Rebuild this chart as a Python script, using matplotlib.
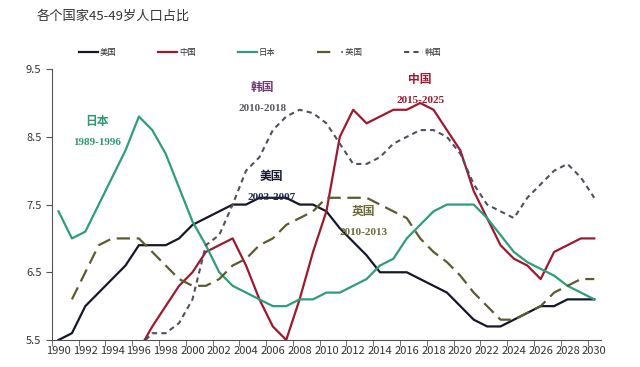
import numpy as np
import matplotlib
matplotlib.use("Agg")
import matplotlib.pyplot as plt
from matplotlib.lines import Line2D

plt.rcParams['font.family'] = ['Noto Sans CJK SC', 'DejaVu Sans']

years = np.arange(1990, 2031)
nan = np.nan

usa = [5.5, 5.6, 6.0, 6.2, 6.4, 6.6, 6.9, 6.9, 6.9, 7.0,
       7.2, 7.3, 7.4, 7.5, 7.5, 7.6, 7.6, 7.6, 7.5, 7.5,
       7.4, 7.15, 6.95, 6.75, 6.5, 6.5, 6.5, 6.4, 6.3, 6.2,
       6.0, 5.8, 5.7, 5.7, 5.8, 5.9, 6.0, 6.0, 6.1, 6.1, 6.1]
china = [nan, nan, nan, nan, nan, nan, 5.35, 5.7, 6.0, 6.3,
         6.5, 6.8, 6.9, 7.0, 6.6, 6.1, 5.7, 5.5, 6.1, 6.8,
         7.4, 8.5, 8.9, 8.7, 8.8, 8.9, 8.9, 9.0, 8.9, 8.6,
         8.3, 7.7, 7.3, 6.9, 6.7, 6.6, 6.4, 6.8, 6.9, 7.0, 7.0]
japan = [7.4, 7.0, 7.1, 7.5, 7.9, 8.3, 8.8, 8.6, 8.25, 7.75,
         7.25, 6.9, 6.5, 6.3, 6.2, 6.1, 6.0, 6.0, 6.1, 6.1,
         6.2, 6.2, 6.3, 6.4, 6.6, 6.7, 7.0, 7.2, 7.4, 7.5,
         7.5, 7.5, 7.3, 7.05, 6.8, 6.65, 6.55, 6.45, 6.3, 6.2, 6.1]
uk = [nan, 6.1, 6.5, 6.9, 7.0, 7.0, 7.0, 6.8, 6.6, 6.4,
      6.3, 6.3, 6.4, 6.6, 6.7, 6.9, 7.0, 7.2, 7.3, 7.4,
      7.6, 7.6, 7.6, 7.6, 7.5, 7.4, 7.3, 7.0, 6.8, 6.65,
      6.45, 6.2, 6.0, 5.8, 5.8, 5.9, 6.0, 6.2, 6.3, 6.4, 6.4]
korea = [nan, nan, nan, nan, nan, nan, 5.4, 5.6, 5.6, 5.75,
         6.1, 6.9, 7.05, 7.5, 8.0, 8.2, 8.6, 8.8, 8.9, 8.85,
         8.7, 8.4, 8.1, 8.1, 8.2, 8.4, 8.5, 8.6, 8.6, 8.5,
         8.25, 7.8, 7.5, 7.4, 7.3, 7.6, 7.8, 8.0, 8.1, 7.9, 7.6]

names = ['美国', '中国', '日本', '·英国', '韩国']
colors = ['#15172b', '#a0182e', '#2e9e78', '#5e5a30', '#50505e']

fig = plt.figure(figsize=(6.4, 3.67), dpi=100)
ax = fig.add_axes([0.081, 0.0736, 0.858, 0.738])

ax.plot(years, usa, color=colors[0], lw=1.6)
ax.plot(years, china, color=colors[1], lw=1.6)
ax.plot(years, japan, color=colors[2], lw=1.6)
ax.plot(years, uk, color=colors[3], lw=1.6, linestyle=(0, (6, 3)))
ax.plot(years, korea, color=colors[4], lw=1.5, linestyle=(0, (2.5, 2)))

ax.set_xlim(1989.5, 2030.5)
ax.set_ylim(5.5, 9.5)
ax.set_yticks([5.5, 6.5, 7.5, 8.5, 9.5])
ax.set_yticklabels(['5.5', '6.5', '7.5', '8.5', '9.5'])
ax.set_xticks(np.arange(1990, 2031, 2))
ax.set_xticklabels([str(y) for y in range(1990, 2031, 2)])
ax.set_xticks(np.arange(1989.5, 2031, 2), minor=True)
ax.tick_params(axis='x', which='major', length=0, pad=4, labelsize=8, colors='#333333')
ax.tick_params(axis='x', which='minor', length=4, color='#555555')
ax.tick_params(axis='y', length=4, labelsize=8, colors='#333333', color='#555555')
for s in ['top', 'right']:
    ax.spines[s].set_visible(False)
for s in ['left', 'bottom']:
    ax.spines[s].set_color('#555555')

# annotations
num_font = ['Liberation Serif', 'Noto Sans CJK SC']
def note(x, y, name, period, c1, c2):
    ax.text(x, y, name, color=c1, fontsize=8.5, fontweight='bold', ha='center', va='center')
    ax.text(x, y - 0.31, period, color=c2, fontsize=8, fontweight='bold', ha='center',
            va='center', family=num_font)

note(1992.9, 8.72, '日本', '1989-1996', '#2e9a6e', '#2e9a6e')
note(2005.2, 9.23, '韩国', '2010-2018', '#6e3d70', '#5a5a6a')
note(2005.9, 7.92, '美国', '2003-2007', '#15172b', '#1f2a4f')
note(2017.0, 9.35, '中国', '2015-2025', '#a0182e', '#a0182e')
note(2012.75, 7.40, '英国', '2010-2013', '#6b6a35', '#6b6a35')

handles = [
    Line2D([], [], color=colors[0], lw=1.6),
    Line2D([], [], color=colors[1], lw=1.6),
    Line2D([], [], color=colors[2], lw=1.6),
    Line2D([], [], color=colors[3], lw=1.6, linestyle=(0, (6, 3))),
    Line2D([], [], color=colors[4], lw=1.5, linestyle=(0, (2.5, 2))),
]
fig.legend(handles, names, loc='center', bbox_to_anchor=(0.407, 0.856), ncol=5,
           frameon=False, fontsize=6, handlelength=2.3, handletextpad=0.2,
           columnspacing=5.0, labelcolor='#333333')

fig.text(0.058, 0.957, '各个国家45-49岁人口占比', fontsize=9.5, color='#333333',
         ha='left', va='center')

fig.savefig('out.png', dpi=100)
